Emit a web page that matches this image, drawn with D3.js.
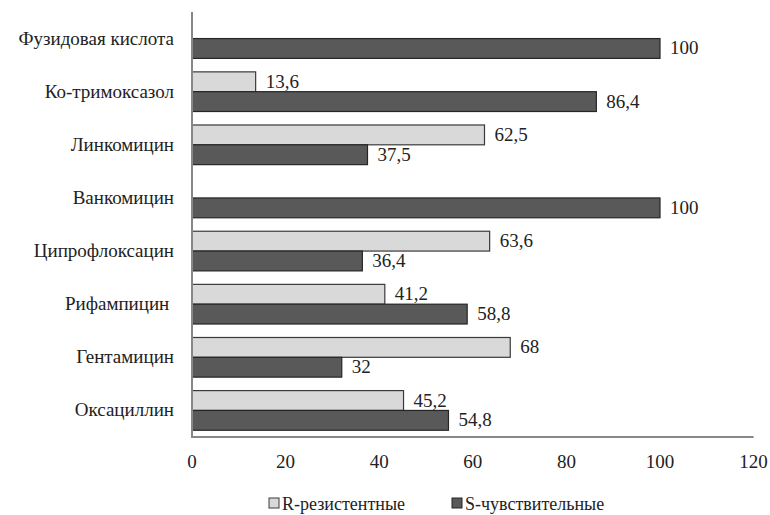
<!DOCTYPE html>
<html>
<head>
<meta charset="utf-8">
<script src="https://cdn.jsdelivr.net/npm/d3@7/dist/d3.min.js"></script>
<style>
  html, body { margin: 0; padding: 0; background: #fff; }
  svg { display: block; }
  svg text { font-family: 'Liberation Serif' !important; }
</style>
</head>
<body>
<svg id="chart" width="770" height="515" style="font-family: 'Liberation Serif'"></svg>
<script>
// Antibiotic susceptibility, % of isolates
const categories = ["Фузидовая кислота", "Ко-тримоксазол", "Линкомицин", "Ванкомицин",
                    "Ципрофлоксацин", "Рифампицин ", "Гентамицин", "Оксациллин"];
const resistant   = [null, 13.6, 62.5, null, 63.6, 41.2, 68, 45.2];
const susceptible = [100, 86.4, 37.5, 100, 36.4, 58.8, 32, 54.8];
const seriesNames = ["R-резистентные", "S-чувствительные"];
const xTicks = [0, 20, 40, 60, 80, 100, 120];

const fills = { R: "#d9d9d9", S: "#595959" };
const strokes = { R: "#3a3a3a", S: "#262626" };
const serif = "'Liberation Serif'";

const svg = d3.select("#chart");
const plotLeft = 192, plotRight = 753.6, plotTop = 12, plotBottom = 437;

const x = d3.scaleLinear().domain([0, 120]).range([plotLeft, plotRight]);
const y = d3.scaleBand().domain(categories).range([plotTop, plotBottom]).padding(0);
const sub = d3.scaleBand().domain(["R", "S"]).range([0, y.bandwidth()])
  .paddingInner(0).paddingOuter(0.34);

const fmt = v => String(v).replace(".", ",");

const rows = categories.map((c, i) => ({ cat: c, R: resistant[i], S: susceptible[i] }));

// Serif text helper
const label = (sel, size) => sel
  .style("font-family", serif, "important")
  .style("font-size", size + "px", "important")
  .attr("fill", "#222");

const g = svg.append("g");
rows.forEach(r => {
  ["R", "S"].forEach(k => {
    if (r[k] == null) return;
    const y0 = y(r.cat) + sub(k);
    g.append("rect")
      .attr("x", x(0))
      .attr("y", y0)
      .attr("width", x(r[k]) - x(0))
      .attr("height", sub.bandwidth())
      .attr("fill", fills[k])
      .attr("stroke", strokes[k])
      .attr("stroke-width", 1.2);
    g.append("text")
      .attr("x", x(r[k]) + 10)
      .attr("y", y0 + sub.bandwidth() / 2 + 6)
      .call(label, 19)
      .text(fmt(r[k]));
  });
});

// Category labels
svg.append("g").selectAll("text").data(categories).join("text")
  .attr("x", 174)
  .attr("y", d => y(d) + y.bandwidth() / 2 + 6)
  .attr("text-anchor", "end")
  .call(label, 19)
  .style("white-space", "pre")
  .text(d => d);

// Axis lines
svg.append("line")
  .attr("x1", plotLeft).attr("x2", plotLeft).attr("y1", plotTop).attr("y2", plotBottom + 1)
  .attr("stroke", "#878787").attr("stroke-width", 2);
svg.append("line")
  .attr("x1", plotLeft - 1).attr("x2", plotRight).attr("y1", plotBottom).attr("y2", plotBottom)
  .attr("stroke", "#878787").attr("stroke-width", 2);

// X tick labels
svg.append("g").selectAll("text").data(xTicks).join("text")
  .attr("x", d => x(d))
  .attr("y", 468)
  .attr("text-anchor", "middle")
  .call(label, 19)
  .text(d => d);

// Legend
const legendX = [269, 452];
const leg = svg.append("g");
seriesNames.forEach((name, i) => {
  const k = i === 0 ? "R" : "S";
  leg.append("rect")
    .attr("x", legendX[i]).attr("y", 498)
    .attr("width", 10).attr("height", 10)
    .attr("fill", fills[k]).attr("stroke", strokes[k]).attr("stroke-width", 1);
  leg.append("text")
    .attr("x", legendX[i] + 13).attr("y", 510)
    .call(label, 18)
    .text(name);
});
</script>
</body>
</html>
